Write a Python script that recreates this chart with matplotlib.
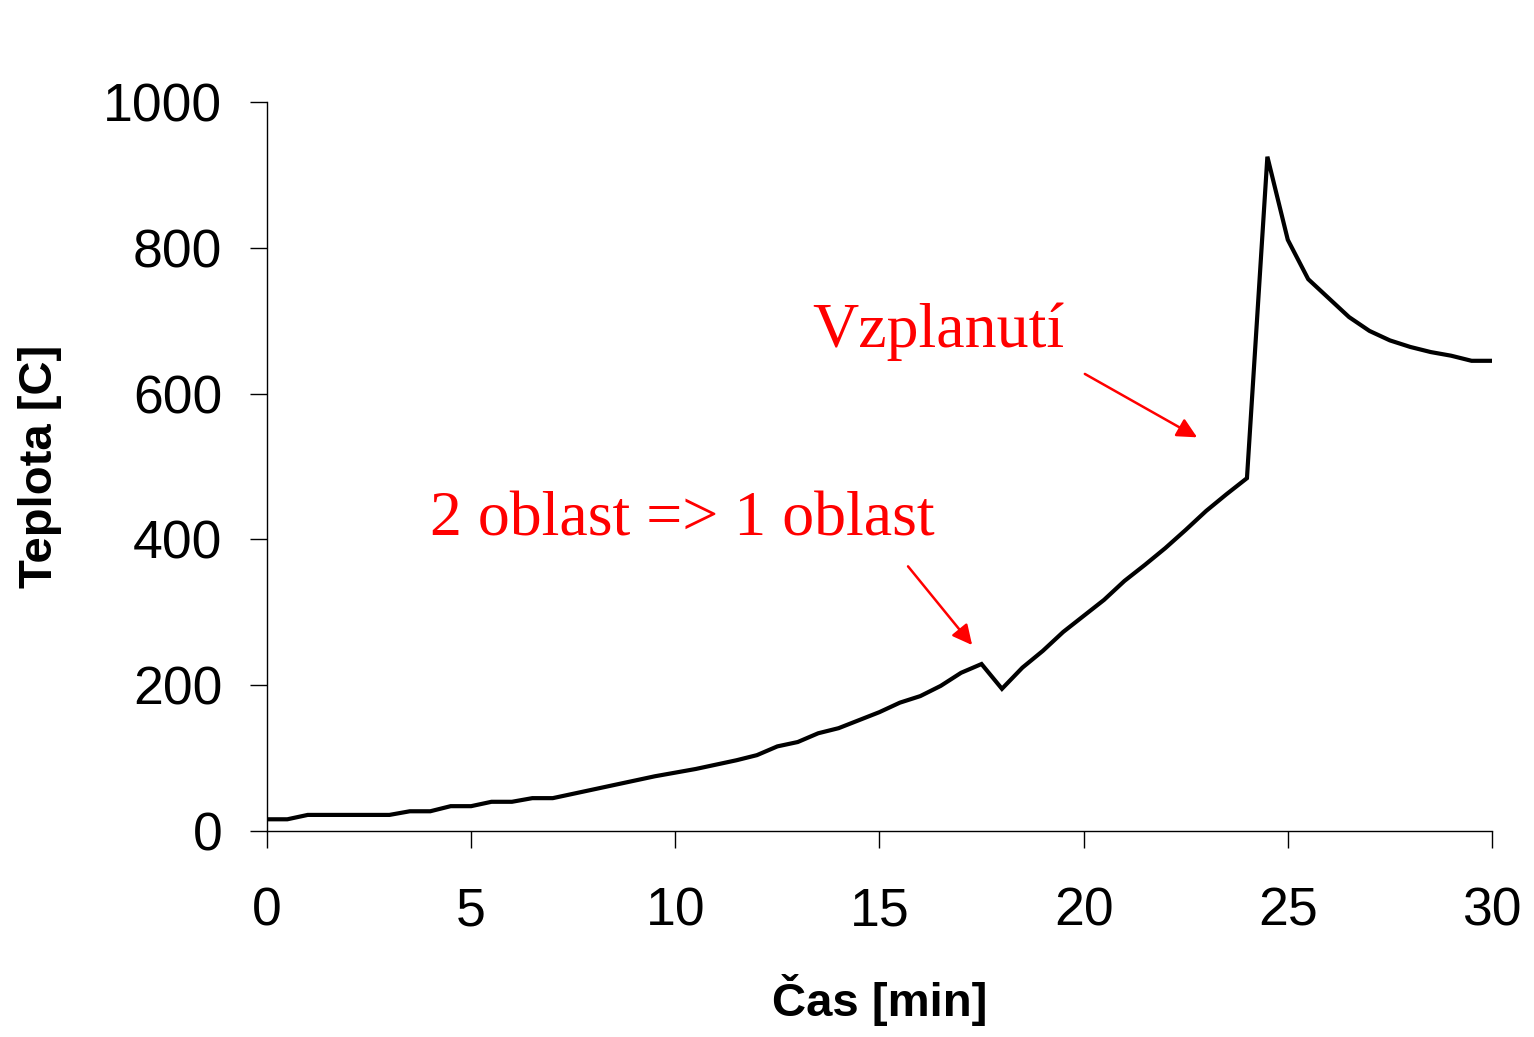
import numpy as np
import matplotlib
matplotlib.use('Agg')
import matplotlib.pyplot as plt

# time [min] and temperature [C]
cas = np.arange(0, 30.5, 0.5)
teplota = [16, 16, 22, 22, 22, 22, 22, 27, 27, 34,
           34, 40, 40, 45, 45, 51, 57, 63, 69, 75,
           80, 85, 91, 97, 104, 116, 122, 134, 141, 152,
           163, 176, 185, 199, 217, 229, 195, 224, 247, 273,
           295, 317, 343, 365, 388, 413, 439, 462, 484, 925,
           811, 757, 731, 705, 686, 673, 664, 657, 652, 645,
           645]

xticks = [0, 5, 10, 15, 20, 25, 30]
yticks = [0, 200, 400, 600, 800, 1000]

fig = plt.figure(figsize=(15.34, 10.37), dpi=100)
ax = fig.add_axes([0.174, 0.1987, 0.7986, 0.7029])

ax.plot(cas, teplota, color='black', lw=3.0, solid_joinstyle='miter')

ax.set_xlim(0, 30)
ax.set_ylim(0, 1000)
ax.set_xticks(xticks)
ax.set_yticks(yticks)
for s in ['top', 'right']:
    ax.spines[s].set_visible(False)
for s in ['left', 'bottom']:
    ax.spines[s].set_linewidth(1.0)
ax.tick_params(direction='out', length=12, width=1.0, labelsize=38.5,
               labelfontfamily='Liberation Sans')
ax.tick_params(axis='x', pad=28)
ax.tick_params(axis='y', pad=20)

ax.set_xlabel('Čas [min]', fontsize=34, fontweight='bold', family='Liberation Sans', labelpad=27)
ax.set_ylabel('Teplota [C]', fontsize=34, fontweight='bold', family='Liberation Sans', labelpad=30)

red = '#ff0000'
ax.annotate('', xy=(17.27, 255), xytext=(15.70, 363),
            arrowprops=dict(arrowstyle='-|>', color=red, lw=1.8, mutation_scale=30, shrinkA=0, shrinkB=0))
ax.annotate('', xy=(22.78, 540), xytext=(20.03, 627),
            arrowprops=dict(arrowstyle='-|>', color=red, lw=1.8, mutation_scale=30, shrinkA=0, shrinkB=0))
ax.text(3.99, 406, '2 oblast => 1 oblast', color=red, fontsize=46, family='Liberation Serif',
        ha='left', va='baseline')
ax.text(13.35, 664, 'Vzplanutí', color=red, fontsize=46, family='Liberation Serif',
        ha='left', va='baseline')

fig.savefig('out.png', dpi=100, facecolor='white')
